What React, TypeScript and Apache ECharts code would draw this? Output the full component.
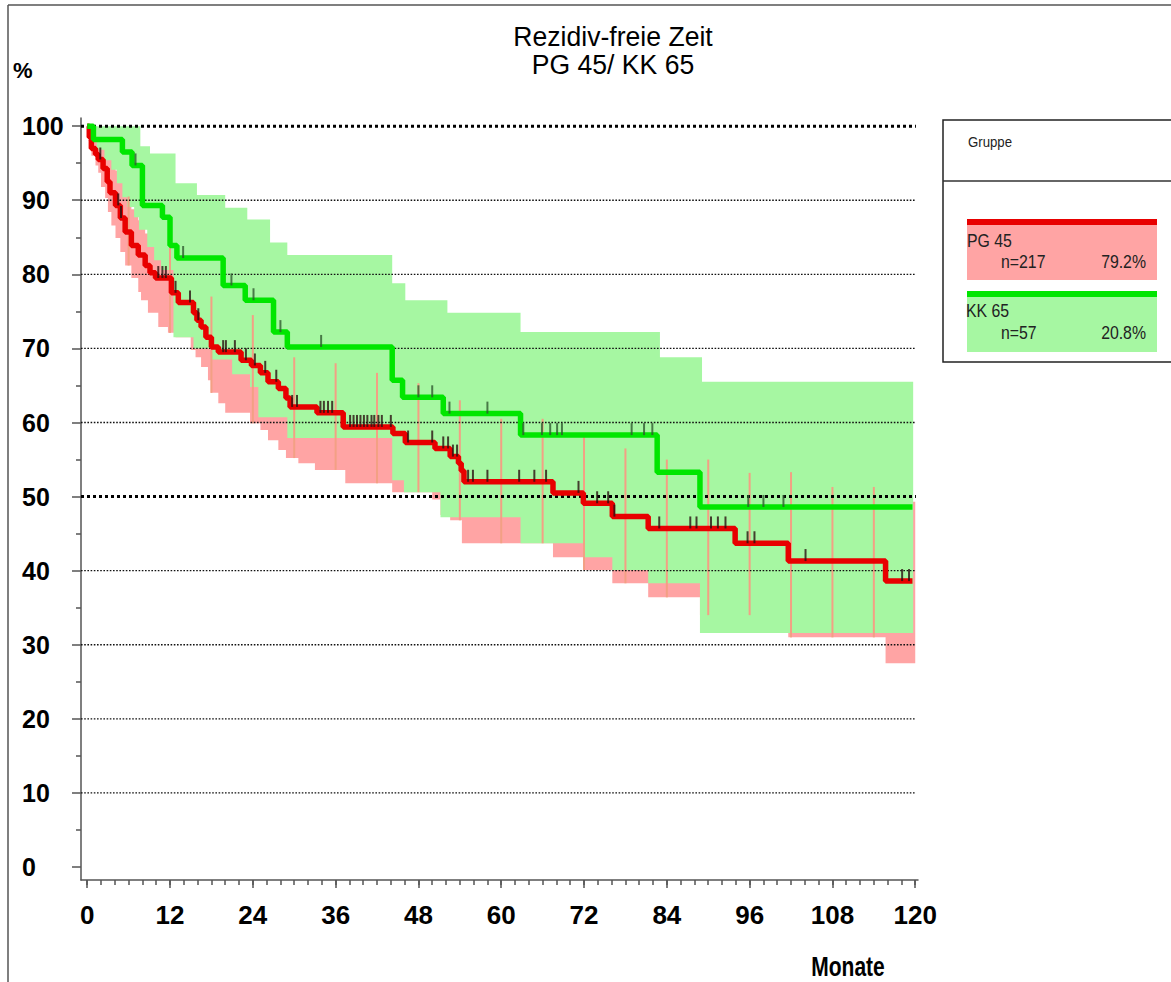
import React, { useEffect, useRef } from "react";
import * as echarts from "echarts";

// ---------- data (months, percent) ----------
const redCurve: number[][] = [
  [0, 100], [0.3, 98.5], [0.6, 97], [1.2, 96.2], [1.6, 95.5], [2.3, 94.3], [2.9, 92.5], [3.3, 91],
  [4.1, 89.3], [4.8, 87.6], [5.5, 85.7], [6.4, 83.9], [7.4, 82.6], [8.4, 81.2], [9.1, 80.2], [9.9, 79.5],
  [12.2, 77.5], [13.2, 76.2], [15.4, 74.8], [15.9, 73.8], [16.5, 72.9], [17.2, 71.5], [18, 70.2], [19, 69.5],
  [22.3, 68.4], [23.8, 67.7], [25.1, 66.7], [26.2, 65.5], [27.7, 64.6], [28.8, 63.3], [29.4, 62.1], [33.3, 61.3],
  [37.1, 59.4], [44.3, 58.5], [46.1, 57.3], [50.4, 56.5], [52.6, 55.4], [53.8, 54.5], [54.2, 53.5], [54.6, 52],
  [67.5, 50.5], [71.9, 49.1], [76.1, 47.3], [81.3, 45.7], [93.9, 43.7], [101.6, 41.3], [115.7, 38.6], [119.6, 38.6],
];

const greenCurve: number[][] = [
  [0, 100], [0.9, 98.2], [5.1, 96.5], [6.5, 94.7], [8, 89.3], [10.9, 87.7], [12, 83.9], [13, 82.2],
  [19.7, 78.5], [22.9, 76.5], [27, 72.2], [29, 70.2], [44.2, 65.7], [45.7, 63.4], [51.6, 61.2], [62.8, 58.3],
  [82.6, 53.3], [88.8, 48.6], [119.6, 48.6],
];

const redUpper: number[][] = [
  [0, 100], [1.2, 99], [2.3, 98], [3.3, 95.5], [4.1, 94], [4.8, 92.5], [5.5, 90.5], [6.4, 88.8],
  [7.4, 87.3], [8.4, 85.5], [9.1, 84.5], [9.9, 83.8], [12.2, 82], [13.2, 80.8], [15.4, 79.5], [16.5, 78],
  [18, 77], [21.2, 75.5], [23.8, 74.5], [26.2, 72], [28.8, 68.8], [33.3, 68], [37.1, 66.7], [46.1, 65.3],
  [52.6, 63], [54.6, 60.5], [67.5, 59.5], [71.9, 58.5], [76.1, 56.5], [81.3, 55], [93.9, 53.2], [101.6, 53.3],
  [104, 51.3], [115.7, 49.3], [120, 49.3],
];

const redLower: number[][] = [
  [0, 100], [0.2, 98], [0.6, 96], [1.2, 94.7], [1.6, 93.7], [2, 91.8], [2.6, 90.3], [3, 88.4],
  [3.5, 86.6], [4.1, 84.9], [4.8, 83], [5.5, 81.2], [6.4, 79.5], [7.4, 77.6], [7.8, 76.5], [8.8, 74.8],
  [10.3, 72.9], [11.7, 72.1], [12.8, 71.5], [15, 69.8], [15.7, 68.8], [16.5, 67.5], [17.5, 65.7], [17.9, 64],
  [19, 62.6], [20, 61.3], [23.6, 59.9], [25.1, 59], [26.2, 57.6], [27.7, 56.3], [28.8, 55.2], [30.6, 54.5],
  [33, 53.6], [37.4, 51.8], [44.2, 50.6], [50, 49.6], [51.2, 47.5], [52.6, 46.8], [54.3, 43.7], [67.5, 41.8],
  [71.9, 40.1], [76.1, 38.3], [81.3, 36.4], [88.8, 34], [101.6, 31], [115.7, 27.5], [120, 27.5],
];

const greenUpper: number[][] = [
  [0, 100], [7.7, 97.3], [9.1, 96.3], [12.8, 92.3], [15.9, 90.7], [20, 89], [23.2, 87.4], [26.5, 84.3],
  [29, 82.6], [44.2, 78.8], [46.1, 76.5], [52.2, 74.8], [62.8, 72.2], [83, 68.8], [89.1, 65.5], [119.7, 65.5],
];

const greenLower: number[][] = [
  [0, 100], [0.6, 98], [1.4, 96.8], [2.5, 95.4], [3.5, 94.1], [4.3, 92.3], [5.1, 90.4], [5.8, 89.1],
  [6.8, 87.7], [7.5, 86], [8.7, 83.7], [9.7, 81.9], [10.7, 80.6], [12.5, 71.5], [15.4, 70], [18, 68.5],
  [21, 66.5], [23.6, 64.8], [24.8, 60.7], [29, 57.9], [44.2, 52.2], [45.9, 50.6], [51.2, 47.2], [62.8, 43.7],
  [71.9, 41.8], [76.1, 40.1], [81.3, 38.3], [88.8, 31.6], [119.7, 31.6],
];

const redCensorTimes = [
  1.9, 4.5, 4.9, 10.3, 10.9, 11.4, 12.8, 14.9, 16.1, 19.7, 20.1, 21.4, 23.0, 24.3, 25.8, 27.4, 29.7, 30.4,
  33.8, 34.3, 34.9, 35.5, 38.1, 38.6, 39.1, 39.6, 40.1, 40.6, 41.2, 41.6, 42.2, 42.7, 44.0, 46.5, 50.0, 51.6,
  52.3, 53.0, 53.6, 55.2, 55.9, 58.0, 62.6, 64.8, 66.5, 71.2, 73.9, 75.5, 76.4, 82.9, 87.4, 88.3, 90.4, 91.4,
  92.5, 95.7, 96.7, 104.1, 118.1, 119.1,
];

const greenCensorTimes = [
  7.0, 13.9, 20.9, 24.1, 28.0, 33.9, 48.0, 50.0, 52.5, 58.0, 63.2, 65.9, 67.1, 68.1, 68.8, 78.9, 80.7, 81.9,
  95.8, 98.0, 100.9,
];

const ciBarTimes = [6, 12, 18, 24, 30, 36, 42, 48, 54, 60, 66, 72, 78, 84, 90, 96, 102, 108, 114];

const yTickValues = [0, 10, 20, 30, 40, 50, 60, 70, 80, 90, 100];
const yMinorTickValues = [5, 15, 25, 35, 45, 55, 65, 75, 85, 95];
const xTickValues = [0, 12, 24, 36, 48, 60, 72, 84, 96, 108, 120];
const xMinorTickValues: number[] = [];
for (let m = 0; m <= 120; m += 2) xMinorTickValues.push(m);

const gridThinValues = [10, 20, 30, 40, 60, 70, 80, 90];
const gridHeavyValues = [50, 100];

const titleLines = ["Rezidiv-freie Zeit", "PG 45/ KK 65"];
const legendGroups = [
  { name: "PG 45", n: "n=217", pct: "79.2%" },
  { name: "KK 65", n: "n=57", pct: "20.8%" },
];

// ---------- styles ----------
const FONT = "'Liberation Sans', Arial, sans-serif";
const RED = "#e80000";
const GREEN = "#00e600";
const PINK = "#ffa4a4";
const LIGHTGREEN = "#a6f7a2";
const SALMON = "#f3a084";
const X_MIN = -0.9;
const X_MAX = 120.4;
const Y_MIN = -1.75;
const Y_MAX = 101.1;

function stepValue(arr: number[][], t: number): number {
  let v = arr[0][1];
  for (const [x, y] of arr) {
    if (x <= t) v = y;
    else break;
  }
  return v;
}

function bandPoints(api: any, upper: number[][], lower: number[][]) {
  const pts: number[][] = [];
  for (let i = 0; i < upper.length; i++) {
    const [t, v] = upper[i];
    const tNext = i + 1 < upper.length ? upper[i + 1][0] : t;
    pts.push(api.coord([t, v]));
    pts.push(api.coord([tNext, v]));
  }
  for (let i = lower.length - 1; i >= 0; i--) {
    const [t, v] = lower[i];
    const tNext = i + 1 < lower.length ? lower[i + 1][0] : t;
    pts.push(api.coord([tNext, v]));
    pts.push(api.coord([t, v]));
  }
  return pts;
}

function bandSeries(upper: number[][], lower: number[][], fill: string, z: number) {
  return {
    type: "custom",
    silent: true,
    z,
    data: [[0, 50]],
    renderItem: (_p: any, api: any) => ({
      type: "polygon",
      shape: { points: bandPoints(api, upper, lower) },
      style: { fill, stroke: null },
    }),
  };
}

function gridSeries(values: number[], heavy: boolean) {
  return {
    type: "custom",
    silent: true,
    z: 4,
    data: values.map((v) => [0, v]),
    renderItem: (_p: any, api: any) => {
      const v = api.value(1);
      const a = api.coord([X_MIN, v]);
      const b = api.coord([120.1, v]);
      return {
        type: "line",
        shape: { x1: a[0], y1: a[1], x2: b[0], y2: b[1] },
        style: heavy
          ? { stroke: "#000", lineWidth: 3, lineDash: [3, 3] }
          : { stroke: "#111", lineWidth: 1.3, lineDash: [1.6, 1.6] },
      };
    },
  };
}

function txt(text: string, x: number, y: number, font: string, align: string, scaleX = 1, fill = "#000") {
  return {
    type: "text",
    x,
    y,
    scaleX,
    style: { text, font, fill, align, verticalAlign: "middle" },
  };
}

function buildOption() {
  const axisLineStyle = { color: "#555", width: 1.5 };
  return {
    animation: false,
    backgroundColor: "#fff",
    grid: { left: 81, right: 253, top: 118, bottom: 102, outerBoundsMode: "none", containLabel: false },
    xAxis: [
      {
        type: "value", min: X_MIN, max: X_MAX, position: "bottom",
        axisLine: { show: true, onZero: false, lineStyle: axisLineStyle },
        axisTick: { show: true, customValues: xTickValues, length: 8, lineStyle: axisLineStyle },
        axisLabel: {
          customValues: xTickValues, color: "#000", fontFamily: FONT, fontWeight: "bold",
          fontSize: 26, margin: 22,
        },
        splitLine: { show: false },
      },
      {
        type: "value", min: X_MIN, max: X_MAX, position: "bottom",
        axisLine: { show: false, onZero: false },
        axisTick: { show: true, customValues: xMinorTickValues, length: 5, lineStyle: axisLineStyle },
        axisLabel: { show: false },
        splitLine: { show: false },
      },
    ],
    yAxis: [
      {
        type: "value", min: Y_MIN, max: Y_MAX, position: "left",
        axisLine: { show: true, onZero: false, lineStyle: axisLineStyle },
        axisTick: { show: true, customValues: yTickValues, length: 9, lineStyle: axisLineStyle },
        axisLabel: {
          customValues: yTickValues, color: "#000", fontFamily: FONT, fontWeight: "bold",
          fontSize: 25, margin: 59, align: "left", padding: [10, 0, 0, 0],
        },
        splitLine: { show: false },
      },
      {
        type: "value", min: Y_MIN, max: Y_MAX, position: "left",
        axisLine: { show: false, onZero: false },
        axisTick: { show: true, customValues: yMinorTickValues, length: 5, lineStyle: axisLineStyle },
        axisLabel: { show: false },
        splitLine: { show: false },
      },
    ],
    series: [
      bandSeries(redUpper, redLower, PINK, 1),
      bandSeries(greenUpper, greenLower, LIGHTGREEN, 2),
      {
        type: "custom",
        silent: true,
        z: 3,
        data: ciBarTimes.map((t) => [t, stepValue(redUpper, t)]),
        renderItem: (_p: any, api: any) => {
          const t = api.value(0);
          const a = api.coord([t, stepValue(redUpper, t)]);
          const b = api.coord([t, stepValue(redLower, t)]);
          return {
            type: "line",
            shape: { x1: a[0], y1: a[1], x2: b[0], y2: b[1] },
            style: { stroke: SALMON, lineWidth: 2 },
          };
        },
      },
      gridSeries(gridThinValues, false),
      gridSeries(gridHeavyValues, true),
      {
        type: "line", name: "PG 45", step: "end", z: 5, symbol: "none",
        data: redCurve, lineStyle: { color: RED, width: 5.5 },
      },
      {
        type: "line", name: "KK 65", step: "end", z: 6, symbol: "none",
        data: greenCurve, lineStyle: { color: GREEN, width: 5.5 },
      },
      {
        type: "scatter", z: 7, silent: true, symbol: "rect", symbolSize: [2, 12], symbolOffset: [0, -6],
        itemStyle: { color: "#2a1010" },
        data: redCensorTimes.map((t) => [t, stepValue(redCurve, t)]),
      },
      {
        type: "scatter", z: 8, silent: true, symbol: "rect", symbolSize: [2, 12], symbolOffset: [0, -6],
        itemStyle: { color: "#2f5a2f" },
        data: greenCensorTimes.map((t) => [t, stepValue(greenCurve, t)]),
      },
    ],
    graphic: [
      // frame
      { type: "line", shape: { x1: 8, y1: 5, x2: 1171, y2: 5 }, style: { stroke: "#555", lineWidth: 1.5 } },
      { type: "line", shape: { x1: 8, y1: 5, x2: 8, y2: 982 }, style: { stroke: "#555", lineWidth: 1.5 } },
      // title
      txt(titleLines[0], 613, 36, `28px ${FONT}`, "center", 0.95),
      txt(titleLines[1], 613, 64, `28px ${FONT}`, "center", 0.95),
      // axis names
      txt("%", 13, 70, `bold 22px ${FONT}`, "left"),
      txt("Monate", 848, 966, `bold 28px ${FONT}`, "center", 0.75),
      // legend box
      { type: "rect", shape: { x: 943, y: 120, width: 240, height: 242 }, style: { fill: "none", stroke: "#222", lineWidth: 1.5 } },
      { type: "line", shape: { x1: 943, y1: 181, x2: 1171, y2: 181 }, style: { stroke: "#333", lineWidth: 1.5 } },
      txt("Gruppe", 968, 142, `15px ${FONT}`, "left", 0.88, "#222"),
      { type: "rect", shape: { x: 967, y: 225, width: 190, height: 55 }, style: { fill: PINK } },
      { type: "rect", shape: { x: 967, y: 219, width: 190, height: 6 }, style: { fill: RED } },
      txt(legendGroups[0].name, 967, 241, `18px ${FONT}`, "left", 0.88, "#222"),
      txt(legendGroups[0].n, 1001, 262, `18px ${FONT}`, "left", 0.88, "#222"),
      txt(legendGroups[0].pct, 1146, 262, `18px ${FONT}`, "right", 0.88, "#222"),
      { type: "rect", shape: { x: 967, y: 297, width: 190, height: 55 }, style: { fill: LIGHTGREEN } },
      { type: "rect", shape: { x: 967, y: 291, width: 190, height: 6 }, style: { fill: GREEN } },
      txt(legendGroups[1].name, 966, 311, `18px ${FONT}`, "left", 0.88, "#222"),
      txt(legendGroups[1].n, 1001, 333, `18px ${FONT}`, "left", 0.88, "#222"),
      txt(legendGroups[1].pct, 1146, 333, `18px ${FONT}`, "right", 0.88, "#222"),
    ],
  };
}

export default function App() {
  const ref = useRef<HTMLDivElement>(null);
  useEffect(() => {
    if (!ref.current) return;
    const chart = echarts.init(ref.current, null, { renderer: "svg" });
    chart.setOption(buildOption() as any);
    return () => chart.dispose();
  }, []);
  return (
    <div
      ref={ref}
      style={{ position: "absolute", left: 0, top: 0, width: 1171, height: 982, background: "#fff" }}
    />
  );
}
